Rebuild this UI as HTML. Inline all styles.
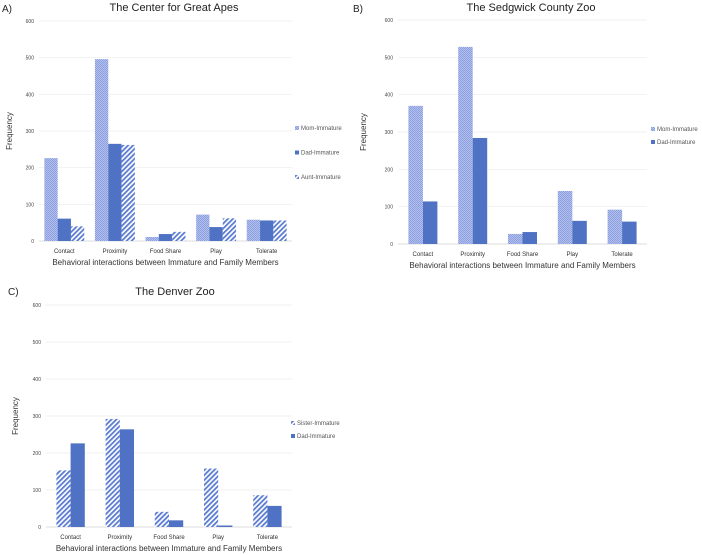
<!DOCTYPE html>
<html><head><meta charset="utf-8">
<style>
html,body{margin:0;padding:0;background:#fff;}
svg{display:block;font-family:"Liberation Sans",sans-serif;}
</style></head>
<body>
<svg id="fig" width="702" height="555" viewBox="0 0 702 555" xmlns="http://www.w3.org/2000/svg">
<defs>
<pattern id="pMom" width="2" height="2" patternUnits="userSpaceOnUse">
<rect width="2" height="2" fill="#b3c0ec"/><rect width="1" height="1" fill="#8c9fe0"/><rect x="1" y="1" width="1" height="1" fill="#8c9fe0"/>
</pattern>
<pattern id="pStripe" width="3.5" height="3.5" patternUnits="userSpaceOnUse" patternTransform="rotate(45)">
<rect width="3.5" height="3.5" fill="#fff"/><rect width="1.8" height="3.5" fill="#5a7bd0"/>
</pattern>
</defs>
<text x="2" y="12" font-size="10" fill="#222">A)</text>
<text x="353" y="12" font-size="10" fill="#222">B)</text>
<text x="8" y="295" font-size="10" fill="#222">C)</text>
</svg>
<script>
const categories = ["Contact","Proximity","Food Share","Play","Tolerate"];
const ticks = [0,100,200,300,400,500,600];
const aMom = [226,496,11,72,58];
const aDad = [61,265,19,38,56];
const aAunt = [40,262,25,62,56];
const bMom = [370,528,27,142,92];
const bDad = [114,284,32,62,60];
const cSister = [153,292,41,158,86];
const cDad = [226,264,18,4,57];

const NS = "http://www.w3.org/2000/svg";
const svg = document.getElementById('fig');
const fills = {mom:"url(#pMom)", dad:"#4f72c4", stripe:"url(#pStripe)"};
function mk(tag, attrs, parent){
  const e = document.createElementNS(NS, tag);
  for (const k in attrs) e.setAttribute(k, attrs[k]);
  (parent||svg).appendChild(e); return e;
}
function chart(cfg){
  const g = mk('g', {});
  
  
  const y = v => cfg.y0 - (cfg.y0 - cfg.y600) * v / 600;
  const cw = (cfg.x1 - cfg.x0) / categories.length;
  ticks.forEach(t => {
    const l = mk('line', {x1:cfg.x0, x2:cfg.x1, y1:y(t), y2:y(t), stroke: t===0?'#d0d0d0':'#ececec', 'stroke-width':0.7}, g);
    
    
    const tx = mk('text', {x:cfg.x0-5, y:y(t)+2, 'font-size':5, 'text-anchor':'end', fill:'#444'}, g);
    tx.textContent = t;
    
    
  });
  const n = cfg.series.length;
  const bw = cfg.bw;
  categories.forEach((c, i) => {
    const cx = cfg.x0 + cw * (i + 0.5);
    cfg.series.forEach((s, j) => {
      const v = s.data[i];
      const bx = cx - n * bw / 2 + j * bw;
      const r = mk('rect', {x:bx, y:y(v), width:bw, height:y(0)-y(v), fill:fills[s.style]}, g);
      
      
    });
    const t = mk('text', {x:cx, y:cfg.y0+12, 'font-size':6, 'text-anchor':'middle', fill:'#333'}, g);
    t.textContent = c;
    
    
  });
  const xt = mk('text', {x:(cfg.x0+cfg.x1)/2, y:cfg.y0+24, 'font-size':8, 'text-anchor':'middle', fill:'#333'}, g);
  xt.textContent = 'Behavioral interactions between Immature and Family Members';
  
  
  const yc = (cfg.y0+cfg.y600)/2;
  const yt = mk('text', {x:cfg.ytx, y:yc, 'font-size':8, 'text-anchor':'middle', fill:'#333', transform:'rotate(-90 '+cfg.ytx+' '+yc+')'}, g);
  yt.textContent = 'Frequency';
  
  
  const tt = mk('text', {x:cfg.tx, y:cfg.ty, 'font-size':11, 'text-anchor':'middle', fill:'#222'}, g);
  tt.textContent = cfg.title;
  
  
  cfg.series.forEach((s, j) => {
    const ly = cfg.ly + j * cfg.lgap;
    const lr = mk('rect', {x:cfg.lx, y:ly-4, width:4, height:4, fill:fills[s.style]}, g);
    
    
    const lt = mk('text', {x:cfg.lx+6, y:ly, 'font-size':6, fill:'#555'}, g);
    lt.textContent = s.label;
    
    
  });
}
chart({name:'chart-great-apes', title:'The Center for Great Apes', x0:39, x1:292, y0:241, y600:21, bw:13.3, ytx:12, tx:174, ty:11, lx:295, ly:130, lgap:24.5,
  series:[{key:'mom',label:'Mom-Immature',data:aMom,style:'mom'},{key:'dad',label:'Dad-Immature',data:aDad,style:'dad'},{key:'aunt',label:'Aunt-Immature',data:aAunt,style:'stripe'}]});
chart({name:'chart-sedgwick', title:'The Sedgwick County Zoo', x0:398, x1:647, y0:244, y600:20, bw:14.5, ytx:366, tx:531, ty:11, lx:651, ly:131, lgap:13,
  series:[{key:'mom',label:'Mom-Immature',data:bMom,style:'mom'},{key:'dad',label:'Dad-Immature',data:bDad,style:'dad'}]});
chart({name:'chart-denver', title:'The Denver Zoo', x0:46, x1:292, y0:527, y600:305, bw:14.2, ytx:18, tx:175, ty:295, lx:291, ly:425, lgap:13,
  series:[{key:'sister',label:'Sister-Immature',data:cSister,style:'stripe'},{key:'dad',label:'Dad-Immature',data:cDad,style:'dad'}]});
</script>
</body></html>
